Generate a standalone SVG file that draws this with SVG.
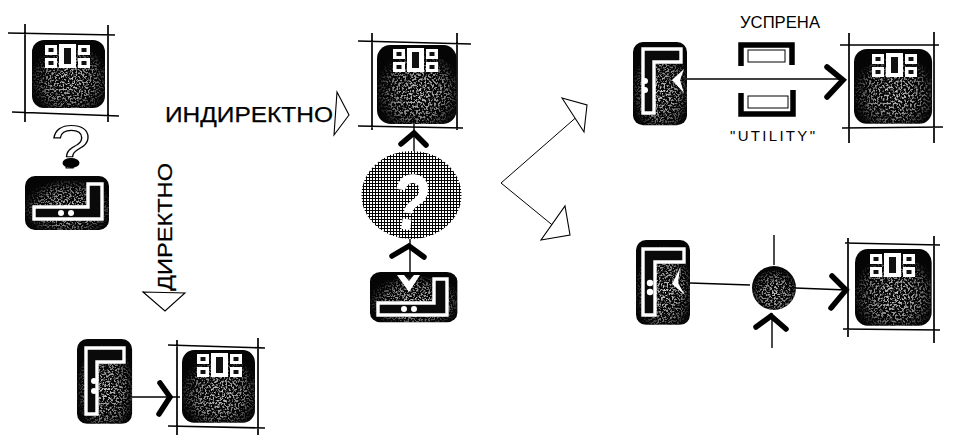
<svg xmlns="http://www.w3.org/2000/svg" xmlns:xlink="http://www.w3.org/1999/xlink" width="953" height="439" viewBox="0 0 953 439">
<style>
.frame{fill:none;stroke:#000;stroke-width:1.7}
.line{fill:none;stroke:#000;stroke-width:1.4}
.chev{fill:none;stroke:#000;stroke-width:5.5;stroke-linecap:round;stroke-linejoin:miter}
.tri{fill:#fff;stroke:#000;stroke-width:1.1;stroke-linejoin:miter}
.ch{fill:#0a0a0a;stroke:#fff;stroke-width:3.4;stroke-linejoin:miter}
.wh{fill:#fff}
.dk{fill:#111}
.lab{font-family:"Liberation Sans","DejaVu Sans",sans-serif;fill:#000}
.thick{stroke:#000;stroke-width:.25}
</style>
<defs>
<radialGradient id="glow" cx=".52" cy=".6" r=".55">
<stop offset="0" stop-color="#fff" stop-opacity=".8"/>
<stop offset=".6" stop-color="#fff" stop-opacity=".5"/>
<stop offset="1" stop-color="#fff" stop-opacity="0"/>
</radialGradient>
<filter id="speckle" x="0" y="0" width="1" height="1" color-interpolation-filters="sRGB">
<feTurbulence type="fractalNoise" baseFrequency=".55" numOctaves="2" seed="5" result="n"/>
<feColorMatrix in="n" type="matrix" values="0 0 0 0 1 0 0 0 0 1 0 0 0 0 1 6 0 0 0 -2.8" result="sp"/>
<feComposite in="sp" in2="SourceGraphic" operator="in"/>
</filter>
<filter id="rough" filterUnits="userSpaceOnUse" x="0" y="0" width="953" height="439">
<feTurbulence type="fractalNoise" baseFrequency=".07" numOctaves="2" seed="2" result="d"/>
<feDisplacementMap in="SourceGraphic" in2="d" scale="1.4" xChannelSelector="R" yChannelSelector="G"/>
</filter>
<pattern id="dots" width="3" height="3" patternUnits="userSpaceOnUse">
<rect width="3" height="3" fill="#000"/>
<rect x="1" y="1" width="2" height="2" fill="#fff"/>
</pattern>
<g id="base">
<rect width="73" height="68" rx="12" fill="#050505"/>
<rect width="73" height="68" rx="12" fill="url(#glow)" filter="url(#speckle)"/>
</g>
<g id="blocks">
<rect class="wh" x="0" y="1" width="12" height="10"/><rect class="dk" x="3.5" y="4" width="5" height="4"/>
<rect class="wh" x="0" y="14" width="12" height="10"/><rect class="dk" x="3.5" y="17" width="5" height="4"/>
<rect class="wh" x="14" y="0" width="17" height="24"/><rect class="dk" x="19" y="4" width="7" height="16"/>
<rect class="wh" x="33" y="1" width="12" height="10"/><rect class="dk" x="36.5" y="4" width="5" height="4"/>
<rect class="wh" x="33" y="14" width="12" height="10"/><rect class="dk" x="36.5" y="17" width="5" height="4"/>
</g>
<g id="ctlBase">
<rect width="54" height="84" rx="10" fill="#050505"/>
<rect width="54" height="84" rx="10" fill="url(#glow)" filter="url(#speckle)"/>
</g>
<g id="ctlBaseH">
<rect width="84" height="54" rx="10" fill="#050505"/>
<rect width="84" height="54" rx="10" fill="url(#glow)" filter="url(#speckle)"/>
</g>
</defs>
<rect width="953" height="439" fill="#fff"/>

<g id="connectors">
<g filter="url(#rough)">
<path class="line" d="M132 397H180"/>
<path class="chev" d="M160 383L170 397L159 414"/>
<path class="line" d="M414 124V155M410 239V272"/>
<path class="chev" d="M401 144L414 133L426 145"/>
<path class="chev" d="M392 256L409 246L424 257"/>
<path class="line" d="M687 79H840"/>
<path class="chev" d="M827 67L843 80L827 97"/>
<path class="line" d="M690 283L750 285M795 288L847 290M774 235V265M772 313V348"/>
<path class="chev" d="M832 276L846 290L831 308"/>
<path class="chev" d="M756 327L771 316L786 329"/>
</g>
<path d="M580 114L501 183L556 228" fill="none" stroke="#000" stroke-width="1"/>
<polygon class="tri" points="337,92 349,115 334,135"/>
<polygon class="tri" points="143,292 185,293 165,311"/>
<polygon class="tri" points="562,98 587,105 584,132"/>
<polygon class="tri" points="541,240 570,235 565,206"/>
</g>

<g id="node-display-a">
<g filter="url(#rough)"><path class="frame" d="M8 33L115 35M12 112L119 116M25 24V122M108 25V122"/></g>
<use href="#base" xlink:href="#base" transform="translate(32,40)"/>
<use href="#blocks" xlink:href="#blocks" transform="translate(45,44)"/>
</g>
<g id="node-question">
<text class="lab" font-size="62" transform="translate(51,168) scale(1.15,1)" style="fill:#fff;stroke:#000;stroke-width:1.2">?</text>
<ellipse cx="71" cy="163" rx="8.5" ry="5" fill="#000"/>
</g>
<g id="node-control-f">
<use href="#ctlBaseH" xlink:href="#ctlBaseH" transform="translate(25,176)"/>
<path class="ch" d="M34 207H88V184H102V219H34Z"/>
<circle class="wh" cx="61" cy="213" r="3"/><circle class="wh" cx="71" cy="213" r="3"/>
</g>
<g id="node-control-h">
<use href="#ctlBase" xlink:href="#ctlBase" transform="translate(77,339) scale(1.02,1.01)"/>
<path class="ch" d="M86 348H124V362H97V414H86Z"/>
<circle class="wh" cx="94" cy="381" r="3"/><circle class="wh" cx="94" cy="391" r="3"/>
</g>
<g id="node-display-b">
<g filter="url(#rough)"><path class="frame" d="M168 345L265 348M168 426L265 428M177 340V435M258 338V435"/></g>
<use href="#base" xlink:href="#base" transform="translate(182,350) scale(1,1.07)"/>
<use href="#blocks" xlink:href="#blocks" transform="translate(197,353)"/>
</g>
<g id="node-display-c">
<g filter="url(#rough)"><path class="frame" d="M358 41L471 44M358 126L463 128M372 33V130M457 33V130"/></g>
<use href="#base" xlink:href="#base" transform="translate(377,45) scale(1.09,1.16)"/>
<use href="#blocks" xlink:href="#blocks" transform="translate(393,48)"/>
</g>
<g id="node-halftone">
<ellipse cx="411.5" cy="195" rx="50" ry="44" fill="url(#dots)"/>
<text class="lab" font-size="80" font-weight="700" transform="translate(388,227) rotate(8) scale(.78,1)" style="fill:#fff">?</text>
</g>
<g id="node-control-g">
<use href="#ctlBaseH" xlink:href="#ctlBaseH" transform="translate(370,272) scale(1.04,.93)"/>
<path class="ch" d="M378 303H434V279H447V315H378Z"/>
<polygon class="wh" points="397,275 404,275 409,281 414,275 420,275 409,292"/>
<circle class="wh" cx="404" cy="309" r="3"/><circle class="wh" cx="414" cy="309" r="3"/>
</g>
<g id="node-control-i">
<use href="#ctlBase" xlink:href="#ctlBase" transform="translate(633,42) scale(1,.99)"/>
<path class="ch" d="M643 49H681V62H654V113H643Z"/>
<polygon class="wh" points="684,69 672,80 684,93 680,80"/>
<circle class="wh" cx="645" cy="81" r="3"/><circle class="wh" cx="645" cy="90" r="3"/>
</g>
<g id="node-utility-top">
<path d="M741 66V45H792V65" fill="none" stroke="#000" stroke-width="5.5"/>
<rect x="748" y="50" width="37" height="12" fill="#fff" stroke="#000" stroke-width="1"/>
</g>
<g id="node-utility-bottom">
<path d="M741 93V114H793V90" fill="none" stroke="#000" stroke-width="5.5"/>
<rect x="748" y="96" width="40" height="12" fill="#fff" stroke="#000" stroke-width="1"/>
</g>
<g id="node-display-d">
<g filter="url(#rough)"><path class="frame" d="M840 45L939 45M842 128L943 127M849 33V143M934 32V143"/></g>
<use href="#base" xlink:href="#base" transform="translate(854,49) scale(1.07,1.1)"/>
<use href="#blocks" xlink:href="#blocks" transform="translate(872,53)"/>
</g>
<g id="node-control-j">
<use href="#ctlBase" xlink:href="#ctlBase" transform="translate(636,240) scale(1,1.01)"/>
<path class="ch" d="M643 249H684V262H655V315H643Z"/>
<polygon class="wh" points="680,268 672,284 685,295 678,283"/>
<circle class="wh" cx="650" cy="283" r="3.2"/><circle class="wh" cx="650" cy="292" r="3.2"/>
</g>
<g id="node-junction">
<circle cx="774" cy="288" r="22" fill="#050505"/>
<circle cx="774" cy="288" r="22" fill="url(#glow)" filter="url(#speckle)"/>
</g>
<g id="node-display-e">
<g filter="url(#rough)"><path class="frame" d="M845 243L940 245M843 329L940 330M848 238V337M934 236V343"/></g>
<use href="#base" xlink:href="#base" transform="translate(855,249) scale(1.05,1.13)"/>
<use href="#blocks" xlink:href="#blocks" transform="translate(870,253)"/>
</g>

<g id="labels">
<text class="lab thick" x="165" y="122" font-size="22" textLength="168" lengthAdjust="spacingAndGlyphs">ИНДИРЕКТНО</text>
<text class="lab thick" transform="translate(172,291) rotate(-90)" font-size="21" textLength="128" lengthAdjust="spacingAndGlyphs">ДИРЕКТНО</text>
<text class="lab" x="740" y="28" font-size="17" textLength="80" lengthAdjust="spacingAndGlyphs">УСПРЕНА</text>
<text class="lab" x="730" y="141" font-size="15" textLength="85" lengthAdjust="spacing">"UTILITY"</text>
</g>
</svg>
